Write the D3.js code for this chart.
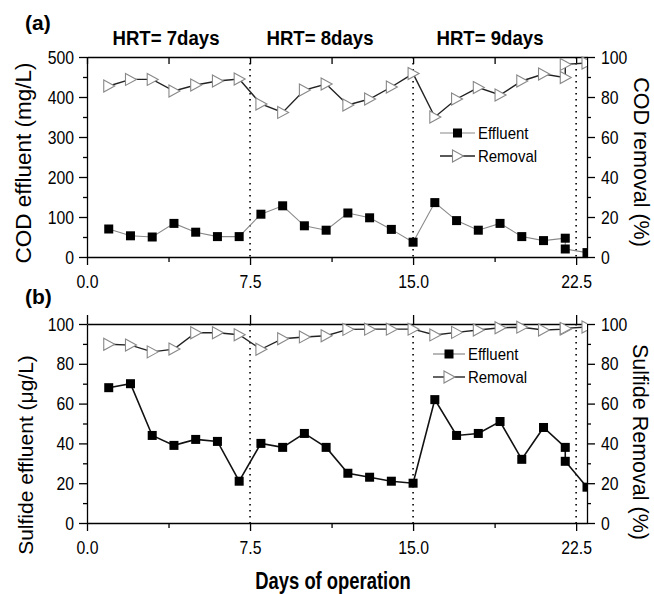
<!DOCTYPE html>
<meta charset="utf-8">
<script src="https://d3js.org/d3.v7.min.js"></script>
<style>
  body { margin: 0; background: #fff; }
  text { font-family: Arial, "Liberation Sans", sans-serif; }
</style>
<div id="chart"></div>
<script>

// days of operation (day 22 was sampled twice)
var days = [1,2,3,4,5,6,7,8,9,10,11,12,13,14,15,16,17,18,19,20,21,22,22,23];

// (a) COD
var codEffluent = [70,53,50,84,62,51,51,107,128,78,67,110,98,69,37,136,91,67,84,51,41,47,20,11];
var codRemoval  = [85.5,88.8,88.8,83,86,88,89,76.5,72.3,83.5,86.5,76,79,85,91.7,70,79,84.7,81,88,91.5,89.7,96.3,97];

// (b) sulfide
var sulfEffluent = [68,70,44,39,42,41,21,40,38,45,38,25,23,21,20,62,44,45,51,32,48,38,31,18];
var sulfRemoval  = [89.8,89.4,86,87.4,95.6,95.6,94.6,87.3,92.6,93.5,94.1,97.3,97.4,97.4,97.4,94.5,95.8,97,98.1,98.4,97,97.4,97.8,98.5];

var hrtLabels = ["HRT= 7days", "HRT= 8days", "HRT= 9days"];
var hrtCenters = [166, 320, 490];   // label centres in px
var hrtBreaks = [7.5, 15, 22.5];
var xMajor = [0, 7.5, 15, 22.5];
var xMinor = [3.75, 11.25, 18.75];

var W = 654, H = 594;
var left = 87, right = 587;

var svg = d3.select("#chart").append("svg")
  .attr("width", W).attr("height", H);

var x = d3.scaleLinear().domain([0, 23]).range([left, right]);

// squeeze text horizontally (reference fonts look narrow)
function squeeze(sel, k) {
  sel.each(function() {
    var w = this.getComputedTextLength();
    d3.select(this).attr("textLength", w * k).attr("lengthAdjust", "spacingAndGlyphs");
  });
}

function tri(cx, cy) {
  return "M" + (cx - 5) + "," + (cy - 6) + "L" + (cx + 6) + "," + cy + "L" + (cx - 5) + "," + (cy + 6) + "Z";
}

function drawPanel(o) {
  var top = o.top, bottom = o.bottom;
  var yL = d3.scaleLinear().domain([0, o.yMax]).range([bottom, top]);
  var yR = d3.scaleLinear().domain([0, 100]).range([bottom, top]);
  var g = svg.append("g");

  // clip
  g.append("clipPath").attr("id", o.id)
    .append("rect").attr("x", left).attr("y", top - 8).attr("width", right - left).attr("height", bottom - top + 16);

  // bottom axis
  var ax = g.append("g").attr("transform", "translate(0," + bottom + ")")
    .call(d3.axisBottom(x).tickValues(xMajor).tickSize(8).tickSizeOuter(0).tickPadding(6).tickFormat(d3.format(".1f")));
  g.append("g").attr("transform", "translate(0," + bottom + ")")
    .call(d3.axisBottom(x).tickValues(xMinor).tickSize(5).tickSizeOuter(0).tickFormat(""))
    .select(".domain").remove();
  ax.selectAll("text").attr("font-size", 19).attr("fill", "#000").attr("dy", "0.9em");
  squeeze(ax.selectAll("text"), 0.83);

  // top axis line + ticks
  var at = g.append("g").attr("transform", "translate(0," + top + ")");
  if (o.topInward) {
    at.call(d3.axisTop(x).tickValues(xMajor.concat(xMinor)).tickSize(-7).tickSizeOuter(0).tickFormat(""));
  } else {
    at.call(d3.axisTop(x).tickValues(xMajor).tickSize(9).tickSizeOuter(0).tickFormat(""));
  }

  // left axis
  var al = g.append("g").attr("transform", "translate(" + left + ",0)")
    .call(d3.axisLeft(yL).tickValues(o.leftMajor).tickSize(8).tickSizeOuter(0).tickPadding(5));
  g.append("g").attr("transform", "translate(" + left + ",0)")
    .call(d3.axisLeft(yL).tickValues(o.leftMinor).tickSize(4).tickFormat(""))
    .select(".domain").remove();
  al.selectAll("text").attr("font-size", 19).attr("fill", "#000");
  squeeze(al.selectAll("text"), 0.83);

  // right axis
  var ar = g.append("g").attr("transform", "translate(" + right + ",0)")
    .call(d3.axisRight(yR).tickValues([0, 20, 40, 60, 80, 100]).tickSize(8).tickSizeOuter(0).tickPadding(6));
  g.append("g").attr("transform", "translate(" + right + ",0)")
    .call(d3.axisRight(yR).tickValues([10, 30, 50, 70, 90]).tickSize(4).tickFormat(""))
    .select(".domain").remove();
  ar.selectAll("text").attr("font-size", 19).attr("fill", "#000");
  squeeze(ar.selectAll("text"), 0.83);

  g.selectAll(".domain, .tick line").attr("stroke", "#000").attr("stroke-width", 1.3);

  // dotted HRT breaks
  g.selectAll(".brk").data(hrtBreaks).enter().append("line")
    .attr("x1", function(d) { return x(d); }).attr("x2", function(d) { return x(d); })
    .attr("y1", top).attr("y2", bottom)
    .attr("stroke", "#000").attr("stroke-width", 1.6).attr("stroke-dasharray", "1.6 4.4");

  var pts = g.append("g").attr("clip-path", "url(#" + o.id + ")");

  // effluent line + squares
  var effLine = d3.line().x(function(d, i) { return x(days[i]); }).y(function(d) { return yL(d); });
  pts.append("path").datum(o.effluent).attr("d", effLine)
    .attr("fill", "none").attr("stroke", o.effColor).attr("stroke-width", o.effWidth);

  // removal line + triangles
  var remLine = d3.line().x(function(d, i) { return x(days[i]); }).y(function(d) { return yR(d); });
  pts.append("path").datum(o.removal).attr("d", remLine)
    .attr("fill", "none").attr("stroke", "#222").attr("stroke-width", 1.4);

  pts.selectAll(".sq").data(o.effluent).enter().append("rect")
    .attr("x", function(d, i) { return x(days[i]) - 4.5; })
    .attr("y", function(d) { return yL(d) - 4.5; })
    .attr("width", 9).attr("height", 9).attr("fill", "#000");

  pts.selectAll(".tr").data(o.removal).enter().append("path")
    .attr("d", function(d, i) { return tri(x(days[i]), yR(d)); })
    .attr("fill", "#fff").attr("stroke", "#888").attr("stroke-width", 1.1);

  // legend
  var lg = o.legend;
  g.append("line").attr("x1", lg.x0).attr("x2", lg.x1).attr("y1", lg.y).attr("y2", lg.y)
    .attr("stroke", "#888").attr("stroke-width", 1.2);
  g.append("rect").attr("x", (lg.x0 + lg.x1) / 2 - 4.5).attr("y", lg.y - 4.5)
    .attr("width", 9).attr("height", 9).attr("fill", "#000");
  g.append("line").attr("x1", lg.x0).attr("x2", lg.x1).attr("y1", lg.y + 23).attr("y2", lg.y + 23)
    .attr("stroke", "#222").attr("stroke-width", 1.4);
  g.append("path").attr("d", tri((lg.x0 + lg.x1) / 2, lg.y + 23))
    .attr("fill", "#fff").attr("stroke", "#888").attr("stroke-width", 1.1);
  var lt = g.selectAll(".lt").data(["Effluent", "Removal"]).enter().append("text")
    .attr("x", lg.x1 + 3).attr("y", function(d, i) { return lg.y + 6 + i * 23; })
    .attr("font-size", 17).text(function(d) { return d; });
  squeeze(lt, 0.88);

  // axis titles
  g.append("text").attr("transform", "translate(" + o.leftTitleX + "," + o.leftTitleY + ") rotate(-90)")
    .attr("text-anchor", "middle").attr("font-size", o.leftTitleSize).text(o.leftTitle);
  g.append("text").attr("transform", "translate(" + o.rightTitleX + "," + o.rightTitleY + ") rotate(90)")
    .attr("text-anchor", "middle").attr("font-size", 21.5).text(o.rightTitle);

  // panel letter
  g.append("text").attr("x", 25).attr("y", o.letterY).attr("font-size", 21)
    .attr("font-weight", "bold").text(o.letter);
}

drawPanel({
  id: "clipA", top: 57, bottom: 257, yMax: 500,
  leftMajor: [0, 100, 200, 300, 400, 500], leftMinor: [50, 150, 250, 350, 450],
  effluent: codEffluent, removal: codRemoval,
  effColor: "#888", effWidth: 1.1, topInward: true,
  legend: { x0: 440, x1: 475, y: 133 },
  leftTitle: "COD effluent (mg/L)", leftTitleX: 31, leftTitleY: 163, leftTitleSize: 22.5,
  rightTitle: "COD removal (%)", rightTitleX: 634, rightTitleY: 162,
  letter: "(a)", letterY: 30
});

drawPanel({
  id: "clipB", top: 324, bottom: 523, yMax: 100,
  leftMajor: [0, 20, 40, 60, 80, 100], leftMinor: [10, 30, 50, 70, 90],
  effluent: sulfEffluent, removal: sulfRemoval,
  effColor: "#111", effWidth: 1.6, topInward: false,
  legend: { x0: 433, x1: 465, y: 354 },
  leftTitle: "Sulfide effluent (\u03bcg/L)", leftTitleX: 33, leftTitleY: 455, leftTitleSize: 21,
  rightTitle: "Sulfide Removal (%)", rightTitleX: 633, rightTitleY: 442,
  letter: "(b)", letterY: 304
});

// HRT labels
var hl = svg.selectAll(".hrt").data(hrtLabels).enter().append("text")
  .attr("x", function(d, i) { return hrtCenters[i]; }).attr("y", 45)
  .attr("text-anchor", "middle").attr("font-size", 20).attr("font-weight", "bold")
  .text(function(d) { return d; });
squeeze(hl, 0.93);

// x title
var xt = svg.append("text").attr("x", 333).attr("y", 589).attr("text-anchor", "middle")
  .attr("font-size", 23).attr("font-weight", "bold").text("Days of operation");
squeeze(xt, 0.8);

</script>
